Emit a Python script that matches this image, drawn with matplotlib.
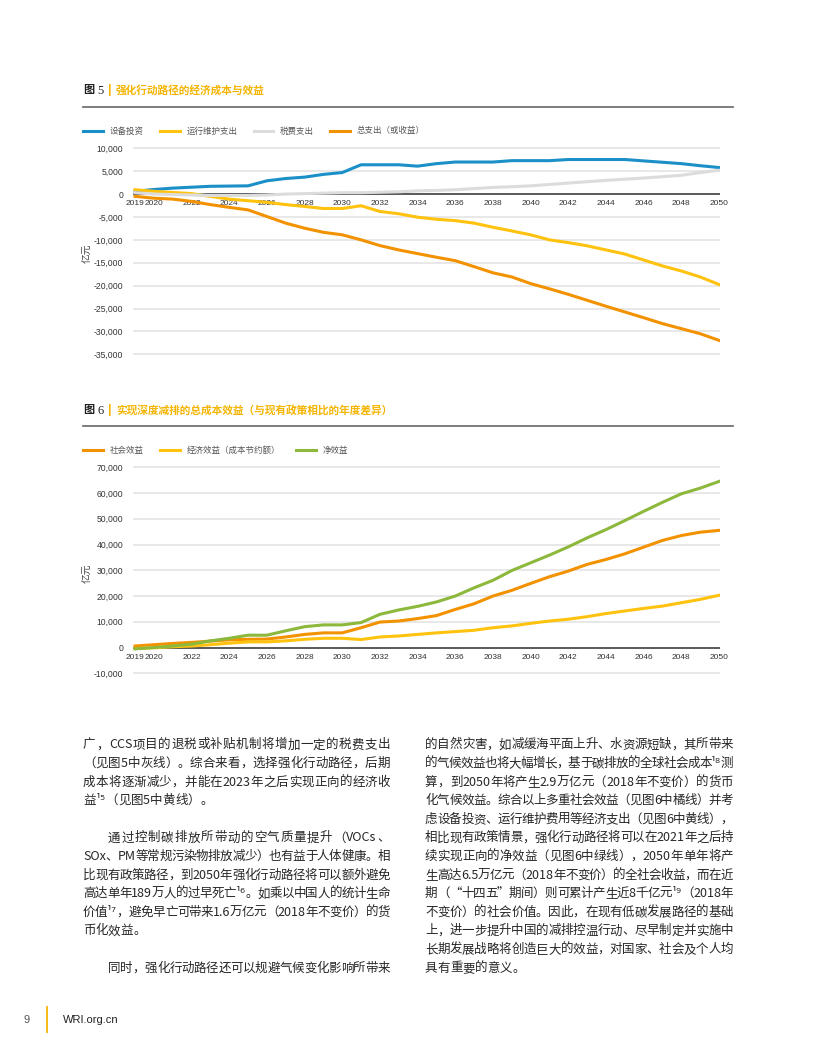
import re
import matplotlib
matplotlib.use('Agg')
import matplotlib.pyplot as plt
from matplotlib.lines import Line2D
from matplotlib.transforms import IdentityTransform

W, H = 816, 1056
CJK = ['Noto Sans CJK SC', 'DejaVu Sans']
NARROW = ['Liberation Sans Narrow', 'Liberation Sans', 'DejaVu Sans']

years = list(range(2019, 2051))
xticks = [2019, 2020] + list(range(2022, 2051, 2))

# fig 5 - economic cost and benefit (亿元)
equip = [600, 1000, 1300, 1500, 1700, 1750, 1800, 2900, 3400, 3700,
         4300, 4700, 6400, 6400, 6400, 6100, 6650, 7000, 7000, 7000,
         7300, 7300, 7300, 7550, 7550, 7550, 7550, 7250, 6950, 6650,
         6200, 5800]
om = [950, 600, 350, 100, -500, -1100, -1450, -1800, -2300, -2700,
      -3150, -3150, -2550, -3800, -4300, -5050, -5500, -5800, -6350, -7250,
      -8050, -8900, -10000, -10600, -11300, -12200, -13100, -14400, -15700, -16800,
      -18100, -19750]
tax = [300, 0, -100, -200, -300, -300, -300, -200, 0, 100,
       200, 300, 300, 400, 500, 700, 800, 950, 1200, 1450,
       1600, 1800, 2100, 2400, 2700, 3000, 3250, 3500, 3800, 4100,
       4700, 5200]
total = [-500, -900, -1100, -1600, -2300, -2900, -3450, -4900, -6350, -7450,
         -8350, -8900, -10000, -11250, -12200, -13000, -13800, -14550, -15850, -17200,
         -18100, -19550, -20700, -21900, -23200, -24500, -25750, -27000, -28300, -29400,
         -30500, -31950]
yt1 = list(range(-35000, 10001, 5000))

# fig 6 - total cost-benefit vs current policy (亿元)
social = [600, 1100, 1600, 2000, 2500, 3000, 3200, 3300, 4100, 5100,
          5700, 5700, 7700, 9900, 10300, 11250, 12400, 14800, 17000, 20000,
          22200, 24900, 27500, 29700, 32300, 34200, 36400, 39000, 41600, 43500,
          44800, 45500]
econ = [-400, -100, 300, 600, 1100, 1700, 2200, 2200, 2600, 3200,
        3600, 3600, 3100, 4100, 4500, 5100, 5700, 6200, 6700, 7700,
        8400, 9400, 10300, 11000, 12000, 13200, 14200, 15200, 16100, 17400,
        18700, 20300]
net = [-500, 0, 600, 1300, 2600, 3600, 4800, 4800, 6500, 8100,
       8800, 8800, 9700, 12900, 14600, 16000, 17700, 20000, 23200, 26100,
       29900, 32900, 35900, 39100, 42600, 45800, 49300, 52900, 56400, 59700,
       61900, 64500]
yt2 = list(range(-10000, 70001, 10000))

BLUE, YEL, GRAY, ORA, GRN = '#1b8fc8', '#ffc20e', '#dcdcdc', '#f39200', '#8cb83c'
TITLE_Y = '#f5b400'

fig = plt.figure(figsize=(W / 100, H / 100), dpi=100)
fig.patch.set_facecolor('white')


def rect(l, t, r, b):
    return [l / W, 1 - b / H, (r - l) / W, (b - t) / H]


def setup_axes(ax, yt, ylo, yhi):
    ppy = (719 - 135) / 31.0
    ax.set_xlim(2019 - 2 / ppy, 2050 + 1 / ppy)
    ax.set_ylim(ylo, yhi)
    for s in ax.spines.values():
        s.set_visible(False)
    ax.spines['bottom'].set_position(('data', 0))
    ax.set_yticks(yt)
    ax.set_yticklabels([f'{v:,}' for v in yt])
    ax.set_xticks(xticks)
    ax.set_xticklabels([str(v) for v in xticks])
    ax.grid(axis='y', color='#e6e6e6', lw=1.3)
    ax.set_axisbelow(True)
    ax.axhline(0, color='#333333', lw=1.1, zorder=1.5)
    ax.tick_params(axis='y', length=0, pad=7, labelsize=6.2, labelcolor='#333333')
    ax.tick_params(axis='x', length=0, pad=4.5, labelsize=6.0, labelcolor='#333333')
    for lab in ax.get_xticklabels() + ax.get_yticklabels():
        lab.set_family(NARROW)


def header(y_title, y_rule, num, title):
    fig.text(83 / W, 1 - y_title / H, '图', family=CJK, fontsize=8, fontweight='bold',
             color='#222222', va='center')
    fig.text(97 / W, 1 - (y_title + 1) / H, num, family=['Liberation Serif', 'DejaVu Serif'],
             fontsize=9, color='#222222', va='center')
    fig.text(108 / W, 1 - y_title / H, '|', family=NARROW, fontsize=9, fontweight='bold',
             color=TITLE_Y, va='center')
    fig.text(116 / W, 1 - y_title / H, title, family=CJK, fontsize=7.7, fontweight='bold',
             color=TITLE_Y, va='center')
    fig.add_artist(Line2D([83 / W, 733 / W], [1 - y_rule / H] * 2, color='#666666', lw=1.2))


def legend(handles, y):
    fig.legend(handles=handles, loc='center left', bbox_to_anchor=(83 / W, 1 - y / H),
               ncol=len(handles), frameon=False, borderpad=0, borderaxespad=0,
               handlelength=2.35, handletextpad=0.8, columnspacing=1.9,
               prop={'family': CJK, 'size': 6.1}, labelcolor='#555555')


# ---- figure 5
header(90, 107, '5', '强化行动路径的经济成本与效益')
ax1 = fig.add_axes(rect(133, 146.3, 720, 356.3))
setup_axes(ax1, yt1, -35000 - 2 * 218.4, 10000 + 2 * 218.4)
lw = 2.2
l1, = ax1.plot(years, equip, color=BLUE, lw=lw, label='设备投资', solid_joinstyle='round')
l2, = ax1.plot(years, om, color=YEL, lw=lw, label='运行维护支出', solid_joinstyle='round')
l3, = ax1.plot(years, tax, color=GRAY, lw=lw, label='税费支出', solid_joinstyle='round')
l4, = ax1.plot(years, total, color=ORA, lw=lw, label='总支出（或收益）', solid_joinstyle='round')
legend([l1, l2, l3, l4], 131)
fig.text(88 / W, 1 - 253 / H, '亿元', family=CJK, fontsize=7, color='#444444',
         rotation=90, ha='center', va='center')

# ---- figure 6
header(410, 426, '6', '实现深度减排的总成本效益（与现有政策相比的年度差异）')
ax2 = fig.add_axes(rect(133, 465.3, 720, 675.3))
setup_axes(ax2, yt2, -10000 - 2 * 388.3, 70000 + 2 * 388.3)
m1, = ax2.plot(years, social, color=ORA, lw=lw, label='社会效益', solid_joinstyle='round')
m2, = ax2.plot(years, econ, color=YEL, lw=lw, label='经济效益（成本节约额）', solid_joinstyle='round')
m3, = ax2.plot(years, net, color=GRN, lw=lw, label='净效益', solid_joinstyle='round')
legend([m1, m2, m3], 450)
fig.text(88 / W, 1 - 573 / H, '亿元', family=CJK, fontsize=7, color='#444444',
         rotation=90, ha='center', va='center')

# ---- body text, justified per token
left_lines = [
    (0, '广，CCS项目的退税或补贴机制将增加一定的税费支出', False, True),
    (1, '（见图5中灰线）。综合来看，选择强化行动路径，后期', False, True),
    (2, '成本将逐渐减少，并能在2023年之后实现正向的经济收', False, True),
    (3, '益¹⁵（见图5中黄线）。', False, False),
    (5, '通过控制碳排放所带动的空气质量提升（VOCs、', True, True),
    (6, 'SOx、PM等常规污染物排放减少）也有益于人体健康。相', False, True),
    (7, '比现有政策路径，到2050年强化行动路径将可以额外避免', False, True),
    (8, '高达单年189万人的过早死亡¹⁶。如乘以中国人的统计生命', False, True),
    (9, '价值¹⁷，避免早亡可带来1.6万亿元（2018年不变价）的货', False, True),
    (10, '币化效益。', False, False),
    (12, '同时，强化行动路径还可以规避气候变化影响所带来', True, True),
]
right_lines = [
    '的自然灾害，如减缓海平面上升、水资源短缺，其所带来',
    '的气候效益也将大幅增长，基于碳排放的全球社会成本¹⁸测',
    '算，到2050年将产生2.9万亿元（2018年不变价）的货币',
    '化气候效益。综合以上多重社会效益（见图6中橘线）并考',
    '虑设备投资、运行维护费用等经济支出（见图6中黄线），',
    '相比现有政策情景，强化行动路径将可以在2021年之后持',
    '续实现正向的净效益（见图6中绿线），2050年单年将产',
    '生高达6.5万亿元（2018年不变价）的全社会收益，而在近',
    '期（“十四五”期间）则可累计产生近8千亿元¹⁹（2018年',
    '不变价）的社会价值。因此，在现有低碳发展路径的基础',
    '上，进一步提升中国的减排控温行动、尽早制定并实施中',
    '长期发展战略将创造巨大的效益，对国家、社会及个人均',
    '具有重要的意义。',
]

BODY_SIZE = 9
BODY_COL = '#262626'
renderer = fig.canvas.get_renderer()
_wcache = {}


def ink_w(s):
    if s not in _wcache:
        t = fig.text(0, 0, s, family=CJK, fontsize=BODY_SIZE, transform=IdentityTransform())
        _wcache[s] = t.get_window_extent(renderer).width if s.strip() else 0.0
        t.remove()
    return _wcache[s]


W_z = ink_w('中')
adv_z = ink_w('中中') - W_z
lb_z = (adv_z - W_z) / 2


def is_han(tok):
    return len(tok) == 1 and '\u4e00' <= tok <= '\u9fff'


def token_metrics(tok):
    if is_han(tok):
        return adv_z, None
    adv = ink_w('中' + tok + '中') - ink_w('中中')
    iw = ink_w(tok)
    lb = ink_w('中' + tok) - iw - adv_z + lb_z if iw > 0 else 0.0
    return adv, lb


def put_line(x0, x1, yc, s, indent, justify):
    toks = re.findall(r'[A-Za-z0-9.]+|[¹²³⁴⁵⁶⁷⁸⁹⁰]+|.', s)
    mets = [token_metrics(t) for t in toks]
    if indent:
        x0 += 2 * adv_z
    tot = sum(m[0] for m in mets)
    gap = (x1 - x0 - tot) / (len(toks) - 1) if justify and len(toks) > 1 else 0.0
    pen = x0
    base = H - (yc + 4.4)
    for tok, (adv, lb) in zip(toks, mets):
        if lb is None:
            fig.text(pen + adv / 2, base, tok, family=CJK, fontsize=BODY_SIZE, color=BODY_COL,
                     ha='center', va='baseline', transform=IdentityTransform())
        else:
            fig.text(pen + lb, base, tok, family=CJK, fontsize=BODY_SIZE, color=BODY_COL,
                     ha='left', va='baseline', transform=IdentityTransform())
        pen += adv + gap


LINE0, STEP = 744.0, 18.6
for idx, s, ind, just in left_lines:
    put_line(83, 390, LINE0 + idx * STEP, s, ind, just)
for i, s in enumerate(right_lines):
    put_line(425, 733, LINE0 + i * STEP, s, False, i < len(right_lines) - 1)

# ---- footer
fig.text(27 / W, 1 - 1020 / H, '9', family=NARROW, fontsize=8, color='#555555',
         ha='center', va='center')
fig.add_artist(Line2D([47 / W, 47 / W], [1 - 1007 / H, 1 - 1032 / H], color=TITLE_Y, lw=1.3))
fig.text(63 / W, 1 - 1020 / H, 'WRI.org.cn', family=NARROW, fontsize=8, color='#222222',
         ha='left', va='center')

fig.savefig('out.png', dpi=100, facecolor='white')
